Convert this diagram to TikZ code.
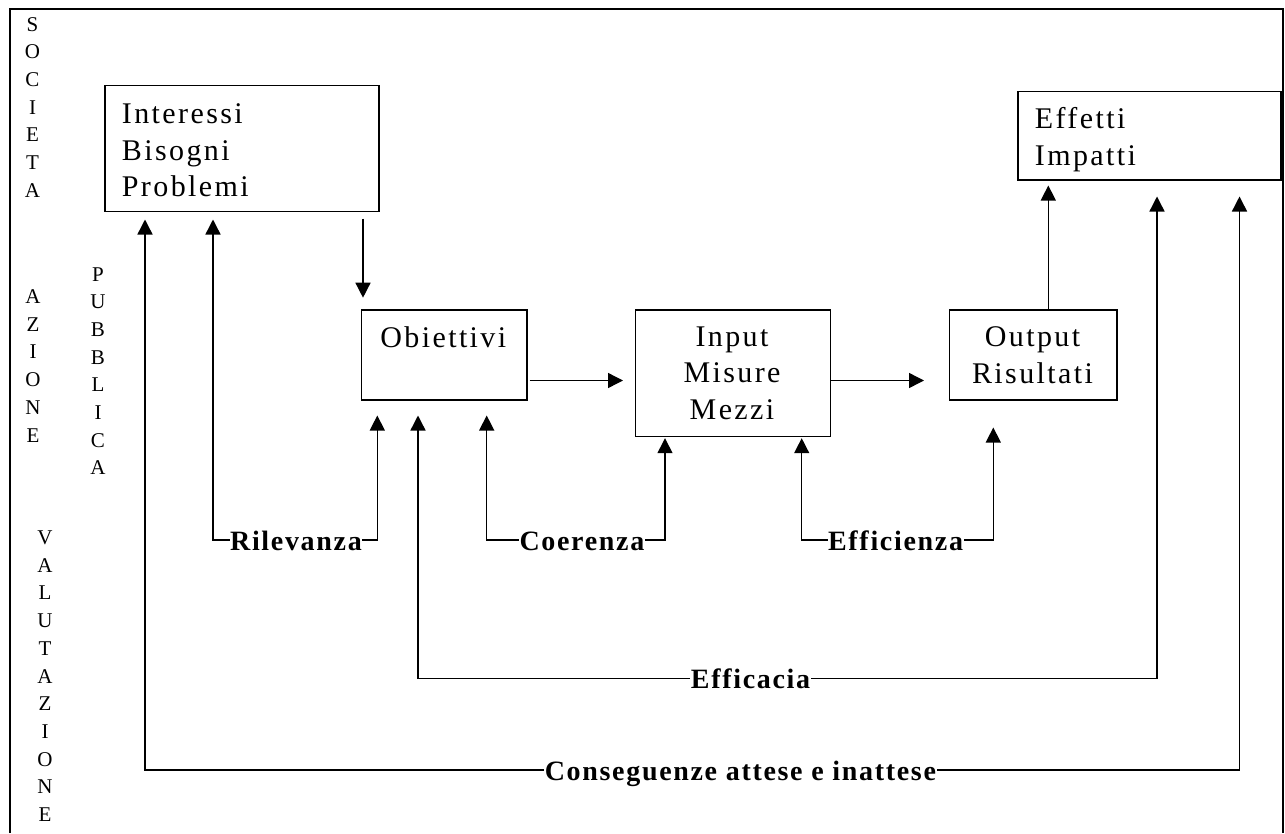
\documentclass[tikz,border=0pt]{standalone}
\usepackage{fontspec}
\setmainfont{Liberation Serif}
\newfontfamily\boxfont[LetterSpace=8]{Liberation Serif}
\newfontfamily\lblfont[LetterSpace=6]{Liberation Serif}
\usetikzlibrary{arrows.meta,calc}
\begin{document}
\begin{tikzpicture}[x=1pt,y=-1pt,
  box/.style={draw, line width=1.5pt, inner sep=0pt, anchor=north west},
  txt/.style={font=\boxfont\fontsize{30}{36.7}\selectfont, inner sep=0pt},
  vtxt/.style={font=\fontsize{21}{27.7}\selectfont, inner sep=0pt, anchor=base},
  lbl/.style={font=\lblfont\bfseries\fontsize{28}{34}\selectfont, fill=white, inner sep=0.6pt, anchor=base, yshift=-10pt},
  arr/.style={line width=1.4pt, -{Triangle[length=15pt,width=15pt]}},
  twoarr/.style={line width=1.4pt, {Triangle[length=15pt,width=15pt]}-{Triangle[length=15pt,width=15pt]}}]
\useasboundingbox (0,0) rectangle (1285,833);
% outer frame (open at the bottom)
\draw[line width=2pt] (10,833) -- (10,9) -- (1283,9) -- (1283,833);
% vertical side texts
\node[vtxt] (soc) at (32.5,31) {\begin{tabular}[t]{@{}c@{}}S\\O\\C\\I\\E\\T\\A\end{tabular}};
\node[vtxt] (azi) at (33,303.5) {\begin{tabular}[t]{@{}c@{}}A\\Z\\I\\O\\N\\E\end{tabular}};
\node[vtxt] (pub) at (98,281) {\begin{tabular}[t]{@{}c@{}}P\\U\\B\\B\\L\\I\\C\\A\end{tabular}};
\node[vtxt] (val) at (45,544.5) {\begin{tabular}[t]{@{}c@{}}V\\A\\L\\U\\T\\A\\Z\\I\\O\\N\\E\end{tabular}};
% boxes
\node[box, minimum width=274pt, minimum height=126pt] (ib) at (104,84.7) {};
\node[box, minimum width=263pt, minimum height=88.6pt] (eff) at (1017,90.7) {};
\node[box, minimum width=165.3pt, minimum height=89.7pt] (ob) at (360.7,309.3) {};
\node[box, minimum width=195pt, minimum height=126.4pt] (inp) at (634.5,309.3) {};
\node[box, minimum width=167.9pt, minimum height=89.7pt] (out) at (948.5,309.3) {};
% box texts
\node[txt, anchor=base west] (ibt) at (121.7,123.3) {\begin{tabular}[t]{@{}l@{}}Interessi\\Bisogni\\Problemi\end{tabular}};
\node[txt, anchor=base west] (efft) at (1034.7,128.3) {\begin{tabular}[t]{@{}l@{}}Effetti\\Impatti\end{tabular}};
\node[txt, anchor=base] (obt) at (443.3,347) {Obiettivi};
\node[txt, anchor=base] (inpt) at (732,346) {\begin{tabular}[t]{@{}c@{}}Input\\Misure\\Mezzi\end{tabular}};
\node[txt, anchor=base] (outt) at (1032.5,346.7) {\begin{tabular}[t]{@{}c@{}}Output\\Risultati\end{tabular}};
% main flow
\draw[arr] ($(ob.north west |- ib.south)+(2.3,6.3)$) -- ($(ob.north west)+(2.3,-11.6)$);
\draw[arr] ($(ob.south east)+(2,-20)$) -- ($(ob.south east -| inp.west)+(-11.5,-20)$);
\draw[arr] ($(ob.south east -| inp.east)+(0.2,-20)$) -- ($(ob.south east -| out.west)+(-24.5,-20)$);
\draw[arr] ($(out.north)+(15.1,0)$) -- ($(out.north |- eff.south)+(15.1,4.7)$);
% evaluation levels
\coordinate (lvA) at (0,540);
\coordinate (lvB) at (0,678.3);
\coordinate (lvC) at (0,770);
\coordinate (r1) at ($(ib.south west)+(109,7.3)$);
\coordinate (r2) at ($(ob.south west)+(16.6,15)$);
\coordinate (c1) at ($(ob.south west)+(126,15)$);
\coordinate (c2) at ($(inp.south west)+(30.5,1)$);
\coordinate (e1) at ($(inp.south west)+(167.2,1)$);
\coordinate (e2) at ($(out.south west)+(44.8,27)$);
\coordinate (f1) at ($(ob.south west)+(57.3,15)$);
\coordinate (f2) at ($(eff.south west)+(140,15.7)$);
\coordinate (g1) at ($(ib.south west)+(41,7.3)$);
\coordinate (g2) at ($(eff.south west)+(222.5,15.7)$);
\draw[twoarr] (r1) -- (r1 |- lvA) -- node[lbl, pos=.505] (rl) {Rilevanza} (r2 |- lvA) -- (r2);
\draw[twoarr] (c1) -- (c1 |- lvA) -- node[lbl, pos=.534] (cl) {Coerenza} (c2 |- lvA) -- (c2);
\draw[twoarr] (e1) -- (e1 |- lvA) -- node[lbl, pos=.49] (el) {Efficienza} (e2 |- lvA) -- (e2);
\draw[twoarr] (f1) -- (f1 |- lvB) -- node[lbl, pos=.45] (fl) {Efficacia} (f2 |- lvB) -- (f2);
\draw[twoarr] (g1) -- (g1 |- lvC) -- node[lbl, pos=.544] (gl) {Conseguenze attese e inattese} (g2 |- lvC) -- (g2);
\end{tikzpicture}
\end{document}
